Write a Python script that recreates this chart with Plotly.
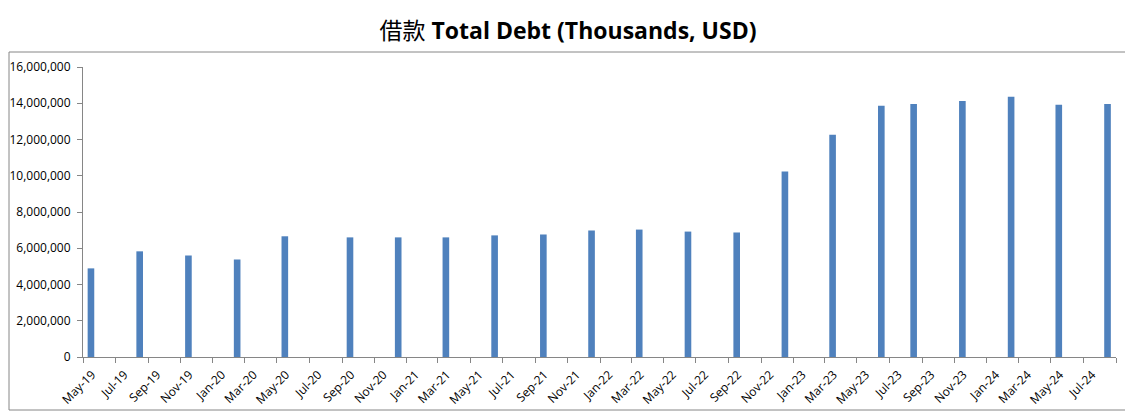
import plotly.graph_objects as go
import pandas as pd

# Data
dates = ["2019-05", "2019-08", "2019-11", "2020-02", "2020-05", "2020-09",
         "2020-12", "2021-03", "2021-06", "2021-09", "2021-12", "2022-03",
         "2022-06", "2022-09", "2022-12", "2023-03", "2023-06", "2023-08",
         "2023-11", "2024-02", "2024-05", "2024-08"]
total_debt = [4890000, 5830000, 5600000, 5380000, 6660000, 6600000,
              6600000, 6600000, 6710000, 6760000, 6980000, 7030000,
              6920000, 6870000, 10230000, 12260000, 13860000, 13960000,
              14130000, 14360000, 13920000, 13960000]
tick_labels = ["May-19", "Jul-19", "Sep-19", "Nov-19", "Jan-20", "Mar-20", "May-20",
               "Jul-20", "Sep-20", "Nov-20", "Jan-21", "Mar-21", "May-21", "Jul-21",
               "Sep-21", "Nov-21", "Jan-22", "Mar-22", "May-22", "Jul-22", "Sep-22",
               "Nov-22", "Jan-23", "Mar-23", "May-23", "Jul-23", "Sep-23", "Nov-23",
               "Jan-24", "Mar-24", "May-24", "Jul-24"]

# bars centered mid-month
bar_x = [pd.Timestamp(d + "-01") + pd.Timedelta(days=15) for d in dates]
label_x = [pd.to_datetime(t, format="%b-%y") + pd.Timedelta(days=17) for t in tick_labels]
minor_x = list(pd.date_range("2019-05-01", "2024-09-01", freq="2MS"))

fig = go.Figure()
fig.add_trace(go.Bar(
    x=bar_x, y=total_debt,
    width=12.5 * 86400000,
    marker=dict(color="#4F81BD", line=dict(width=0)),
))

axis_font = dict(family="Open Sans, Liberation Sans, sans-serif", size=12, color="#000000")

W, H = 1125, 409
PL, PR, PT, PB = 75, 1108, 59, 349

fig.update_layout(
    width=W, height=H,
    margin=dict(l=PL, r=W - PR, t=PT, b=H - PB, autoexpand=False),
    paper_bgcolor="white", plot_bgcolor="white",
    showlegend=False,
    title=dict(
        text="<span style='font-family:Noto Sans CJK SC;font-weight:normal'>借款</span> <b>Total Debt (Thousands, USD)</b>",
        x=560 / W, xref="container", xanchor="center",
        y=1 - 23 / H, yref="container", yanchor="middle",
        font=dict(family="Open Sans, sans-serif", size=23, color="#000000"),
    ),
    xaxis=dict(
        type="date", automargin=False,
        range=["2019-05-01", "2024-09-01"],
        tickmode="array", tickvals=label_x, ticktext=tick_labels,
        tickangle=-45, ticks="", tickfont=axis_font, ticklabelstandoff=5,
        showgrid=False, zeroline=False,
        showline=True, linecolor="#868686", linewidth=1,
        minor=dict(tickmode="array", tickvals=minor_x, ticks="outside",
                   ticklen=5, tickcolor="#868686", tickwidth=1, showgrid=False),
    ),
    yaxis=dict(
        automargin=False,
        range=[0, 16000000], dtick=2000000, tickformat=",",
        ticks="outside", ticklen=5, tickcolor="#868686", tickwidth=1,
        tickfont=axis_font, ticklabelstandoff=4,
        showgrid=False, zeroline=False,
        showline=True, linecolor="#868686", linewidth=1,
    ),
    shapes=[dict(type="rect", xref="paper", yref="paper",
                 x0=(1 - PL) / (PR - PL), x1=(1122 - PL) / (PR - PL),
                 y0=(PB - 402) / (PB - PT), y1=(PB - 44) / (PB - PT),
                 line=dict(color="#868686", width=1), fillcolor="rgba(0,0,0,0)",
                 layer="below")],
)

fig.write_html("out.html")
